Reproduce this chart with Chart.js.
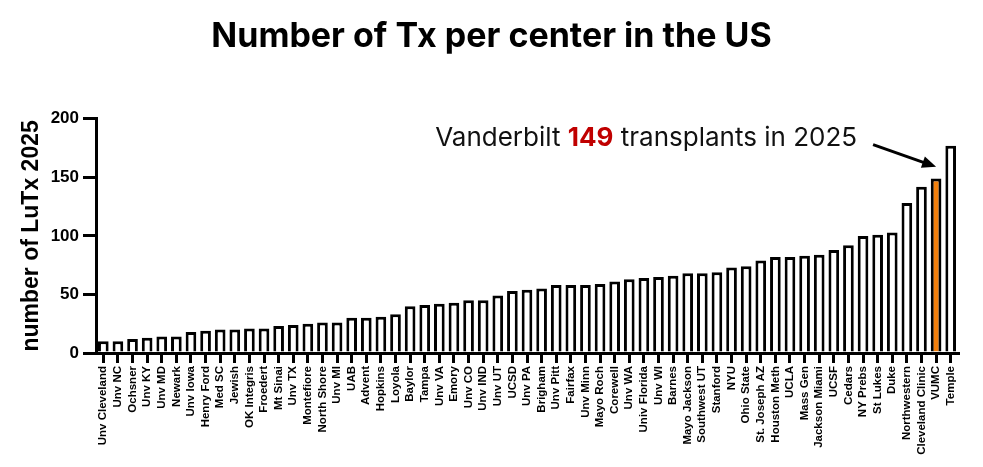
<!DOCTYPE html>
<html>
<head>
<meta charset="utf-8">
<script src="https://cdn.jsdelivr.net/npm/chart.js@4.4.1/dist/chart.umd.min.js"></script>
<style>
  html, body { margin: 0; padding: 0; background: #fff; }
  #wrap { width: 983px; height: 467px; position: relative; }
</style>
</head>
<body>
<div id="wrap"><canvas id="txChart"></canvas></div>
<script>
// Centers, sorted by transplant count
const centers = [
  'Unv Cleveland', 'Unv NC', 'Ochsner', 'Unv KY', 'Unv MD', 'Newark', 'Unv Iowa', 'Henry Ford',
  'Med SC', 'Jewish', 'OK Integris', 'Froedert', 'Mt Sinai', 'Unv TX', 'Montefiore', 'North Shore',
  'Unv MI', 'UAB', 'Advent', 'Hopkins', 'Loyola', 'Baylor', 'Tampa', 'Unv VA', 'Emory', 'Unv CO',
  'Unv IND', 'Unv UT', 'UCSD', 'Unv PA', 'Brigham', 'Unv Pitt', 'Fairfax', 'Unv Minn', 'Mayo Roch',
  'Corewell', 'Unv WA', 'Univ Florida', 'Unv WI', 'Barnes', 'Mayo Jackson', 'Southwest UT',
  'Stanford', 'NYU', 'Ohio State', 'St. Joseph AZ', 'Houston Meth', 'UCLA', 'Mass Gen',
  'Jackson Miami', 'UCSF', 'Cedars', 'NY Prebs', 'St Lukes', 'Duke', 'Northwestern',
  'Cleveland Clinic', 'VUMC', 'Temple'
];

// Number of lung transplants in 2025
const txCounts = [
  10, 10, 12, 13, 14, 14, 18, 19,
  20, 20, 21, 21, 23, 24, 25, 26,
  26, 30, 30, 31, 33, 40, 41, 42, 43, 45,
  45, 49, 53, 54, 55, 58, 58, 58, 59,
  61, 63, 64, 65, 66, 68, 68,
  69, 73, 74, 79, 82, 82, 83,
  84, 88, 92, 100, 101, 103, 128,
  142, 149, 177
];

const yTicks = [0, 50, 100, 150, 200];
const highlightName = 'VUMC';

const highlightIdx = centers.indexOf(highlightName);
const barColors = centers.map(c => c === highlightName ? '#F27F0C' : '#ffffff');

// Callout text + arrow pointing at the highlighted bar
const calloutPlugin = {
  id: 'callout',
  afterDraw(chart) {
    const ctx = chart.ctx;
    const x = chart.scales.x;
    const y = chart.scales.y;
    const barX = x.getPixelForValue(highlightIdx);
    const val = txCounts[highlightIdx];

    // arrow
    const tipX = barX;
    const tipY = y.getPixelForValue(val + 10);
    const startX = barX - 63;
    const startY = y.getPixelForValue(val + 29);
    const ang = Math.atan2(tipY - startY, tipX - startX);
    const headLen = 14;
    const headHalf = 6;
    ctx.save();
    ctx.strokeStyle = '#000';
    ctx.fillStyle = '#000';
    ctx.lineWidth = 3;
    ctx.beginPath();
    ctx.moveTo(startX, startY);
    ctx.lineTo(tipX - Math.cos(ang) * (headLen - 2), tipY - Math.sin(ang) * (headLen - 2));
    ctx.stroke();
    ctx.beginPath();
    ctx.moveTo(tipX, tipY);
    ctx.lineTo(tipX - headLen * Math.cos(ang) + headHalf * Math.sin(ang), tipY - headLen * Math.sin(ang) - headHalf * Math.cos(ang));
    ctx.lineTo(tipX - headLen * Math.cos(ang) - headHalf * Math.sin(ang), tipY - headLen * Math.sin(ang) + headHalf * Math.cos(ang));
    ctx.closePath();
    ctx.fill();

    // text, right aligned
    const parts = [
      { t: 'Vanderbilt ', font: '400 26px Inter', color: '#111' },
      { t: String(val), font: '700 26px Inter', color: '#C00000' },
      { t: ' transplants in 2025', font: '400 26px Inter', color: '#111' }
    ];
    let total = 0;
    parts.forEach(p => { ctx.font = p.font; p.w = ctx.measureText(p.t).width; total += p.w; });
    let tx = barX - 79 - total;
    const ty = y.getPixelForValue(val + 28);
    ctx.textBaseline = 'alphabetic';
    ctx.textAlign = 'left';
    parts.forEach(p => {
      ctx.font = p.font;
      ctx.fillStyle = p.color;
      ctx.fillText(p.t, tx, ty);
      tx += p.w;
    });
    ctx.restore();
  }
};

const ctx = document.getElementById('txChart').getContext('2d');
new Chart(ctx, {
  type: 'bar',
  data: {
    labels: centers,
    datasets: [{
      data: txCounts,
      backgroundColor: barColors,
      borderColor: '#000',
      borderWidth: 3,
      borderSkipped: 'start',
      categoryPercentage: 0.73,
      barPercentage: 1
    }]
  },
  options: {
    responsive: true,
    maintainAspectRatio: false,
    animation: false,
    layout: { padding: 0 },
    plugins: {
      legend: { display: false },
      tooltip: { enabled: false },
      title: {
        display: true,
        text: 'Number of Tx per center in the US',
        color: '#000',
        font: { family: 'Inter', size: 34, weight: '700' },
        padding: { top: 16, bottom: 62 }
      }
    },
    scales: {
      x: {
        offset: true,
        border: { display: true, color: '#000', width: 3 },
        grid: {
          display: true,
          offset: false,
          drawOnChartArea: false,
          drawTicks: true,
          tickLength: 10,
          color: '#000',
          lineWidth: 3
        },
        ticks: {
          autoSkip: false,
          maxRotation: 90,
          minRotation: 90,
          padding: 3,
          color: '#000',
          font: { family: 'Liberation Sans', size: 11.5, weight: 'bold' }
        },
        afterFit(scale) { scale.height = 114; }
      },
      y: {
        min: 0,
        max: 200,
        afterBuildTicks(scale) { scale.ticks = yTicks.map(v => ({ value: v })); },
        border: { display: true, color: '#000', width: 3 },
        grid: {
          display: true,
          drawOnChartArea: false,
          drawTicks: true,
          tickLength: 13,
          color: '#000',
          lineWidth: 3
        },
        ticks: {
          padding: 4,
          color: '#000',
          font: { family: 'Liberation Sans', size: 17, weight: 'bold' }
        },
        title: {
          display: true,
          text: 'number of LuTx 2025',
          color: '#000',
          font: { family: 'Liberation Sans', size: 23, weight: 'bold' },
          padding: { top: 18, bottom: 0 }
        },
        afterFit(scale) { scale.width = 96; }
      },
      // empty right-hand spacer so the title stays centred on the page
      spacer: {
        position: 'right',
        display: true,
        min: 0,
        max: 1,
        border: { display: false },
        grid: { display: false, drawTicks: false },
        ticks: { display: false },
        afterFit(scale) { scale.width = 25; }
      }
    }
  },
  plugins: [calloutPlugin]
});
</script>
</body>
</html>
